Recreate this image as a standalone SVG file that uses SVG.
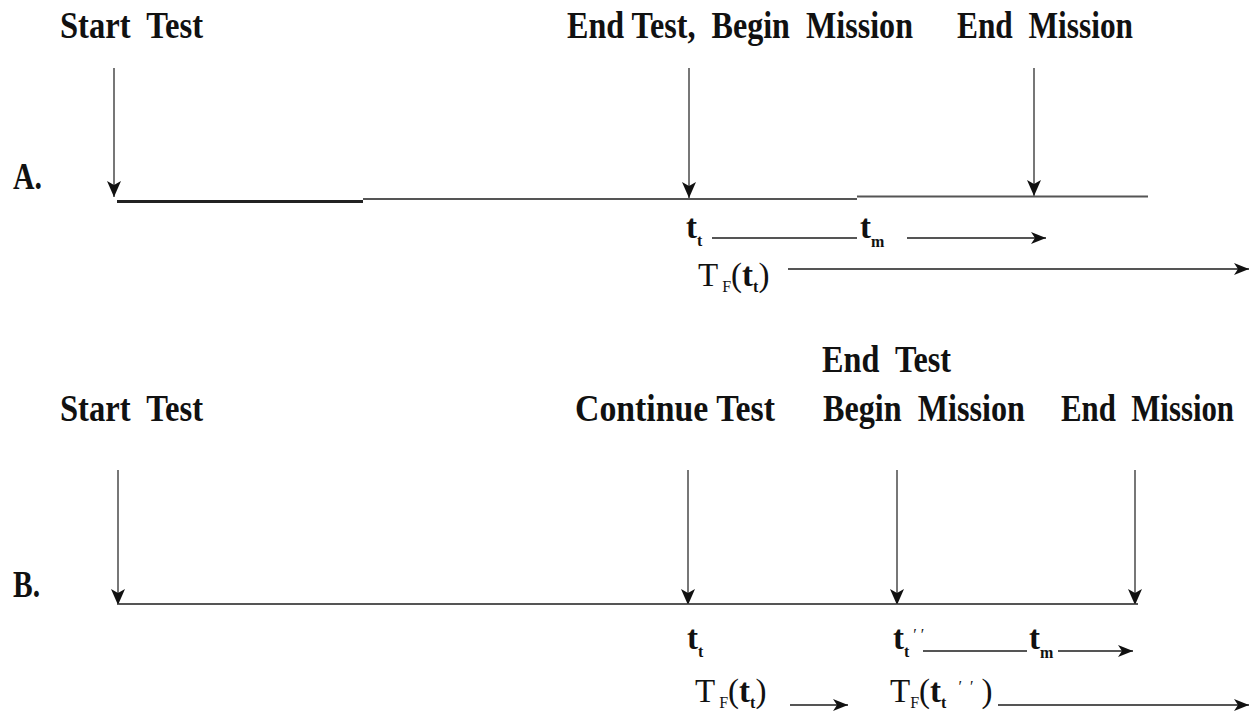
<svg xmlns="http://www.w3.org/2000/svg" width="1249" height="712" viewBox="0 0 1249 712">
<defs>
<style>
.lbl{font-family:"Liberation Serif","Times New Roman",serif;font-weight:bold;font-size:37px;fill:#111}
.sym{font-family:"Liberation Serif","Times New Roman",serif;font-size:33px;fill:#111}
.b{font-weight:bold}
.sub{font-size:16px}
.ln{stroke:#555;stroke-width:2;fill:none}
.ar{stroke:#555;stroke-width:2;fill:none;marker-end:url(#ah)}
.vr{stroke:#777;stroke-width:2;fill:none;marker-end:url(#vh)}
</style>
<marker id="ah" markerUnits="userSpaceOnUse" markerWidth="16" markerHeight="12" refX="15" refY="6" orient="auto">
<path d="M0,0 L15,6 L0,12 L4,6 Z" fill="#111"/>
</marker>
<marker id="vh" markerUnits="userSpaceOnUse" markerWidth="17" markerHeight="14" refX="16" refY="7" orient="auto">
<path d="M0,0 L16,7 L0,14 L4,7 Z" fill="#111"/>
</marker>
</defs>
<rect width="1249" height="712" fill="#fff"/>

<g id="partA">
<g id="a-label"><text class="lbl" x="13" y="189" textLength="29" lengthAdjust="spacingAndGlyphs">A.</text></g>
<g id="a-start"><text class="lbl" xml:space="preserve" x="60" y="38" textLength="143" lengthAdjust="spacingAndGlyphs">Start  Test</text></g>
<g id="a-endtest"><text class="lbl" xml:space="preserve" x="567" y="38" textLength="346" lengthAdjust="spacingAndGlyphs">End Test,  Begin  Mission</text></g>
<g id="a-endmission"><text class="lbl" xml:space="preserve" x="957" y="38" textLength="176" lengthAdjust="spacingAndGlyphs">End  Mission</text></g>
<g id="a-tt"><text class="sym b" x="686" y="238">t<tspan class="sub" y="246">t</tspan></text></g>
<g id="a-tm"><text class="sym b" x="860" y="238">t<tspan class="sub" y="247">m</tspan></text></g>
<g id="a-tf"><text class="sym" x="698" y="286">T<tspan class="sub" y="292"> F</tspan><tspan y="286">(</tspan><tspan class="b" y="286">t</tspan><tspan class="sub b" y="292">t</tspan><tspan y="286">)</tspan></text></g>
</g>

<g id="partB">
<g id="b-label"><text class="lbl" x="13" y="597" textLength="27" lengthAdjust="spacingAndGlyphs">B.</text></g>
<g id="b-start"><text class="lbl" xml:space="preserve" x="60" y="421" textLength="143" lengthAdjust="spacingAndGlyphs">Start  Test</text></g>
<g id="b-continue"><text class="lbl" xml:space="preserve" x="575" y="421" textLength="200" lengthAdjust="spacingAndGlyphs">Continue Test</text></g>
<g id="b-endtest"><text class="lbl" xml:space="preserve" x="822" y="372" textLength="129" lengthAdjust="spacingAndGlyphs">End  Test</text>
<text class="lbl" xml:space="preserve" x="823" y="421" textLength="202" lengthAdjust="spacingAndGlyphs">Begin  Mission</text></g>
<g id="b-endmission"><text class="lbl" xml:space="preserve" style="font-size:33px" transform="translate(1061,421) scale(1,1.12)" x="0" y="0" textLength="173" lengthAdjust="spacingAndGlyphs">End  Mission</text></g>
<g id="b-tt"><text class="sym b" x="687" y="649">t<tspan class="sub" y="657">t</tspan></text></g>
<g id="b-tt2"><text class="sym b" x="893" y="649">t<tspan class="sub" y="657">t</tspan><tspan class="sub" xml:space="preserve" style="font-weight:normal" y="640"> ′ ′</tspan></text></g>
<g id="b-tm"><text class="sym b" x="1029" y="649">t<tspan class="sub" y="658">m</tspan></text></g>
<g id="b-tf1"><text class="sym" x="695" y="702">T<tspan class="sub" y="708"> F</tspan><tspan y="702">(</tspan><tspan class="b" y="702">t</tspan><tspan class="sub b" y="708">t</tspan><tspan y="702">)</tspan></text></g>
<g id="b-tf2"><text class="sym" x="890" y="702" xml:space="preserve">T<tspan class="sub" y="708">F</tspan><tspan y="702">(</tspan><tspan class="b" y="702">t</tspan><tspan class="sub b" y="708">t</tspan><tspan class="sub" y="692">   ′  ′  </tspan><tspan y="702">)</tspan></text></g>
</g>

<g id="connectors">
<line x1="117" y1="201.5" x2="363" y2="201.5" stroke="#222" stroke-width="3"/>
<line class="ln" x1="363" y1="199" x2="857" y2="199"/>
<line class="ln" x1="857" y1="196.5" x2="1148" y2="196.5"/>
<line class="vr" x1="114" y1="68" x2="114" y2="197"/>
<line class="vr" x1="689" y1="68" x2="689" y2="198"/>
<line class="vr" x1="1034" y1="68" x2="1034" y2="196"/>
<line class="ln" x1="712" y1="238" x2="857" y2="238"/>
<line class="ar" x1="907" y1="238" x2="1046" y2="238"/>
<line class="ar" x1="788" y1="269" x2="1249" y2="269"/>

<line class="ln" x1="117" y1="604" x2="1138" y2="604"/>
<line class="vr" x1="118" y1="470" x2="118" y2="605"/>
<line class="vr" x1="688" y1="470" x2="688" y2="605"/>
<line class="vr" x1="897" y1="470" x2="897" y2="605"/>
<line class="vr" x1="1135" y1="470" x2="1135" y2="605"/>
<line class="ln" x1="923" y1="651" x2="1027" y2="651"/>
<line class="ar" x1="1058" y1="651" x2="1133" y2="651"/>
<line class="ar" x1="790" y1="705" x2="848" y2="705"/>
<line class="ar" x1="998" y1="705" x2="1249" y2="705"/>
</g>
</svg>
